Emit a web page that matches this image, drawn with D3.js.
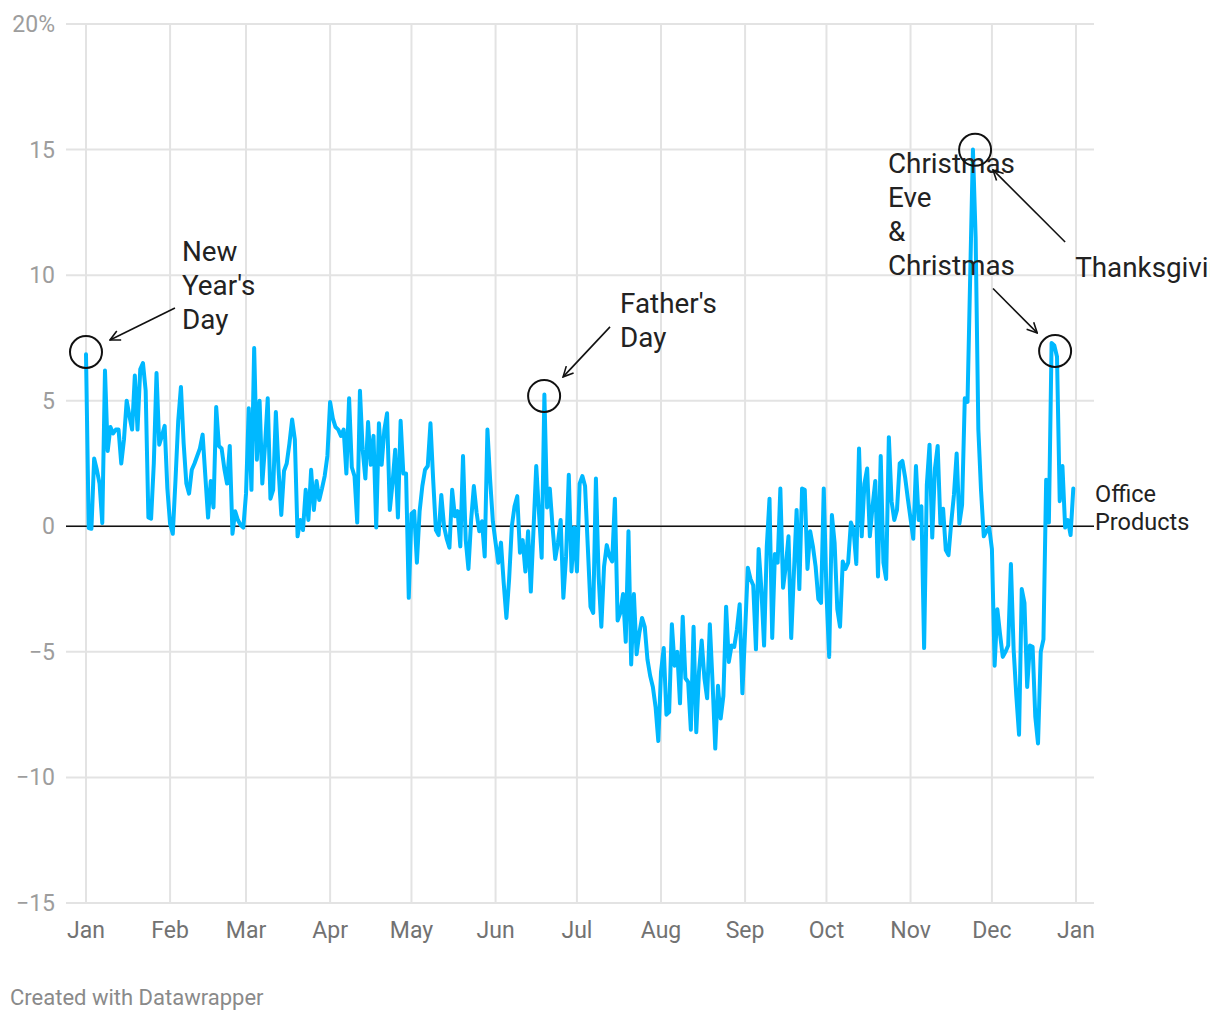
<!DOCTYPE html>
<html><head><meta charset="utf-8">
<script src="https://cdn.jsdelivr.net/npm/d3@7"></script>
<style>
body{margin:0;background:#fff;}
text{font-family:Roboto,"Noto Sans",sans-serif;}
</style>
</head><body>
<svg id="chart" width="1210" height="1020"></svg>
<script>
// ---- data ----
const startYear = 2017;
const officeProducts = [
 6.85,-0.07,-0.1,2.7,2.25,1.7,0.13,6.2,3.0,3.95,3.7,3.85,3.85,2.5,3.45,5.0,4.4,3.85,6.0,3.85,
 6.25,6.5,5.4,0.35,0.3,2.5,6.1,3.25,3.6,4.0,1.5,0.1,-0.3,1.85,4.2,5.55,3.3,1.7,1.3,2.25,
 2.5,2.8,3.1,3.65,2.0,0.35,1.8,0.75,4.75,3.2,3.1,2.3,1.7,3.2,-0.3,0.6,0.25,0.05,-0.05,1.3,
 4.7,1.45,7.1,2.65,5.0,1.7,3.2,5.1,1.1,1.45,4.55,2.25,0.45,2.2,2.5,3.3,4.25,3.45,-0.4,0.25,
 -0.15,1.45,0.25,2.25,0.65,1.8,1.05,1.5,2.0,2.8,4.95,4.3,3.95,3.85,3.6,3.85,2.1,5.1,2.35,2.0,
 0.15,5.4,3.05,1.9,4.15,2.45,3.6,-0.05,4.1,2.45,3.85,4.5,0.65,1.7,3.05,0.35,4.2,2.1,2.1,-2.85,
 0.5,0.6,-1.45,0.6,1.6,2.25,2.4,4.1,1.85,-0.15,-0.35,1.25,0.0,-0.5,-0.85,1.45,0.4,0.6,-0.8,2.8,
 -0.55,-1.7,0.25,1.6,0.55,-0.2,0.2,-1.2,3.85,1.85,0.2,-0.65,-1.45,-0.65,-2.25,-3.65,-2.1,0.0,0.8,1.2,
 -1.05,-0.55,-1.8,-0.2,-2.6,-0.1,2.4,0.55,-1.25,5.25,0.75,1.5,0.0,-1.3,-0.65,0.25,-2.85,-1.2,2.05,-1.8,
 -0.05,-1.8,1.7,2.0,1.6,-0.8,-3.2,-3.45,1.9,-2.0,-4.0,-1.6,-0.75,-1.2,-1.4,1.1,-3.75,-3.45,-2.7,-4.6,
 -0.2,-5.5,-2.7,-5.1,-4.25,-3.65,-4.0,-5.3,-5.95,-6.4,-7.2,-8.55,-5.8,-4.85,-7.5,-7.4,-3.9,-5.55,-5.0,-7.05,
 -3.6,-6.05,-6.2,-8.1,-4.0,-8.2,-5.8,-4.55,-6.05,-6.85,-3.9,-6.2,-8.85,-6.35,-7.65,-6.75,-3.2,-5.4,-4.75,-4.8,
 -4.1,-3.1,-6.65,-4.2,-1.65,-2.1,-2.35,-4.9,-0.9,-2.5,-4.75,-0.8,1.1,-4.45,-1.1,-1.45,1.5,-2.45,-1.6,-0.4,
 -4.45,-1.85,0.65,-2.5,1.5,1.45,-1.7,-0.2,-0.8,-1.6,-2.9,-3.05,1.5,-2.65,-5.2,0.45,-0.65,-3.3,-4.0,-1.4,
 -1.7,-1.45,0.15,-0.15,-1.5,3.1,-0.4,1.7,2.3,-0.4,0.8,1.8,-2.0,2.8,-1.45,-2.1,3.55,1.0,0.25,0.65,
 2.5,2.6,1.95,1.1,0.3,-0.5,2.4,0.25,0.8,-4.85,1.65,3.25,-0.45,2.3,3.2,0.1,0.7,-0.95,-1.15,0.15,
 1.25,2.9,0.1,0.85,5.1,4.95,10.0,15.0,11.5,3.85,1.4,-0.4,-0.2,-0.05,-0.9,-5.55,-3.3,-4.3,-5.2,-5.0,
 -4.75,-1.5,-4.9,-6.75,-8.3,-2.5,-3.05,-6.4,-4.75,-4.8,-7.6,-8.65,-5.0,-4.5,1.85,0.15,7.3,7.2,6.75,1.0,
 2.4,-0.05,0.25,-0.35,1.5
];
const monthLabels = ["Jan","Feb","Mar","Apr","May","Jun","Jul","Aug","Sep","Oct","Nov","Dec","Jan"];
const yTicks = [-15,-10,-5,0,5,10,15,20];
const yTickLabels = ["\u221215","\u221210","\u22125","0","5","10","15","20%"];
const seriesLabel = ["Office","Products"];
const annotationLabels = [
  ["New","Year's","Day"],
  ["Father's","Day"],
  ["Christmas","Eve","&","Christmas"],
  ["Thanksgiving"]
];
const footerText = "Created with Datawrapper";

// ---- drawing ----
const svg = d3.select("#chart");
const start = new Date(Date.UTC(startYear,0,1));
const end = new Date(Date.UTC(startYear+1,0,1));
const x = d3.scaleUtc().domain([start,end]).range([86,1076]);
const y = d3.scaleLinear().domain([-15,20]).range([903,24]);
const dayX = d => x(new Date(start.getTime() + d*86400000));
const gridL = 66, gridR = 1094;

const points = officeProducts.map((v,i)=>({date:d3.utcDay.offset(start,i), v}));
const months = d3.utcMonth.range(start, d3.utcDay.offset(end,1));

// vertical grid
svg.append("g").selectAll("line").data(months).join("line")
  .attr("x1",d=>x(d)).attr("x2",d=>x(d)).attr("y1",y(20)).attr("y2",y(-15))
  .attr("stroke","#e3e3e3").attr("stroke-width",2);
// horizontal grid
svg.append("g").selectAll("line").data(yTicks).join("line")
  .attr("x1",gridL).attr("x2",gridR).attr("y1",d=>y(d)).attr("y2",d=>y(d))
  .attr("stroke","#e3e3e3").attr("stroke-width",2);

// y labels
svg.append("g").selectAll("text").data(yTicks).join("text")
  .attr("x",55).attr("y",d=>y(d)+8).attr("text-anchor","end")
  .attr("fill","#9d9d9d").attr("font-size",23)
  .text((d,i)=>yTickLabels[i]);

// x labels
svg.append("g").selectAll("text").data(months).join("text")
  .attr("x",d=>x(d)).attr("y",938).attr("text-anchor","middle")
  .attr("fill","#727272").attr("font-size",23)
  .text((d,i)=>monthLabels[i]);

// zero line
svg.append("line").attr("x1",gridL).attr("x2",gridR).attr("y1",y(0)).attr("y2",y(0))
  .attr("stroke","#111").attr("stroke-width",1.6);

// series line
const line = d3.line().x(d=>x(d.date)).y(d=>y(d.v)).curve(d3.curveLinear);
svg.append("path").datum(points).attr("d",line)
  .attr("fill","none").attr("stroke","#00b8ff").attr("stroke-width",4)
  .attr("stroke-linejoin","round").attr("stroke-linecap","round");

// series label
svg.append("text").attr("x",1095).attr("y",502).attr("fill","#222").attr("font-size",23.5)
  .selectAll("tspan").data(seriesLabel).join("tspan")
  .attr("x",1095).attr("dy",(d,i)=>i?28:0).text(d=>d);

// annotations
const defs = svg.append("defs");
defs.append("marker").attr("id","arr").attr("viewBox","0 0 12 12").attr("refX",11).attr("refY",6)
  .attr("markerWidth",12).attr("markerHeight",12).attr("markerUnits","userSpaceOnUse").attr("orient","auto")
  .append("path").attr("d","M1,1 L11,6 L1,11").attr("fill","none").attr("stroke","#111").attr("stroke-width",1.6);

const notes = [
  {t:annotationLabels[0], td:35.4, tv:10.58, cd:0, cv:6.94, a:[32.8,8.69,8.85,7.42]},
  {t:annotationLabels[1], td:196.9, tv:8.51, cd:168.9, cv:5.19, a:[193.2,7.94,175.9,5.95]},
  {t:annotationLabels[2], td:295.7, tv:14.08, cd:357.3, cv:6.98, a:[334.4,9.47,350.7,7.7]},
  {t:annotationLabels[3], td:364.7, tv:9.94, cd:327.8, cv:14.99, a:[361,11.32,334.4,14.19]}
];
const ng = svg.append("g");
notes.forEach(n=>{
  ng.append("circle").attr("cx",dayX(n.cd)).attr("cy",y(n.cv)).attr("r",16)
    .attr("fill","none").attr("stroke","#111").attr("stroke-width",2);
  ng.append("line").attr("x1",dayX(n.a[0])).attr("y1",y(n.a[1])).attr("x2",dayX(n.a[2])).attr("y2",y(n.a[3]))
    .attr("stroke","#111").attr("stroke-width",1.6).attr("marker-end","url(#arr)");
  const t = ng.append("text").attr("x",dayX(n.td)).attr("y",y(n.tv)).attr("fill","#222").attr("font-size",27.8);
  t.selectAll("tspan").data(n.t).join("tspan").attr("x",dayX(n.td)).attr("dy",(d,i)=>i?34:0).text(d=>d);
});

// footer
svg.append("text").attr("x",10).attr("y",1005).attr("fill","#8a8a8a").attr("font-size",22).text(footerText);
</script>
</body></html>
